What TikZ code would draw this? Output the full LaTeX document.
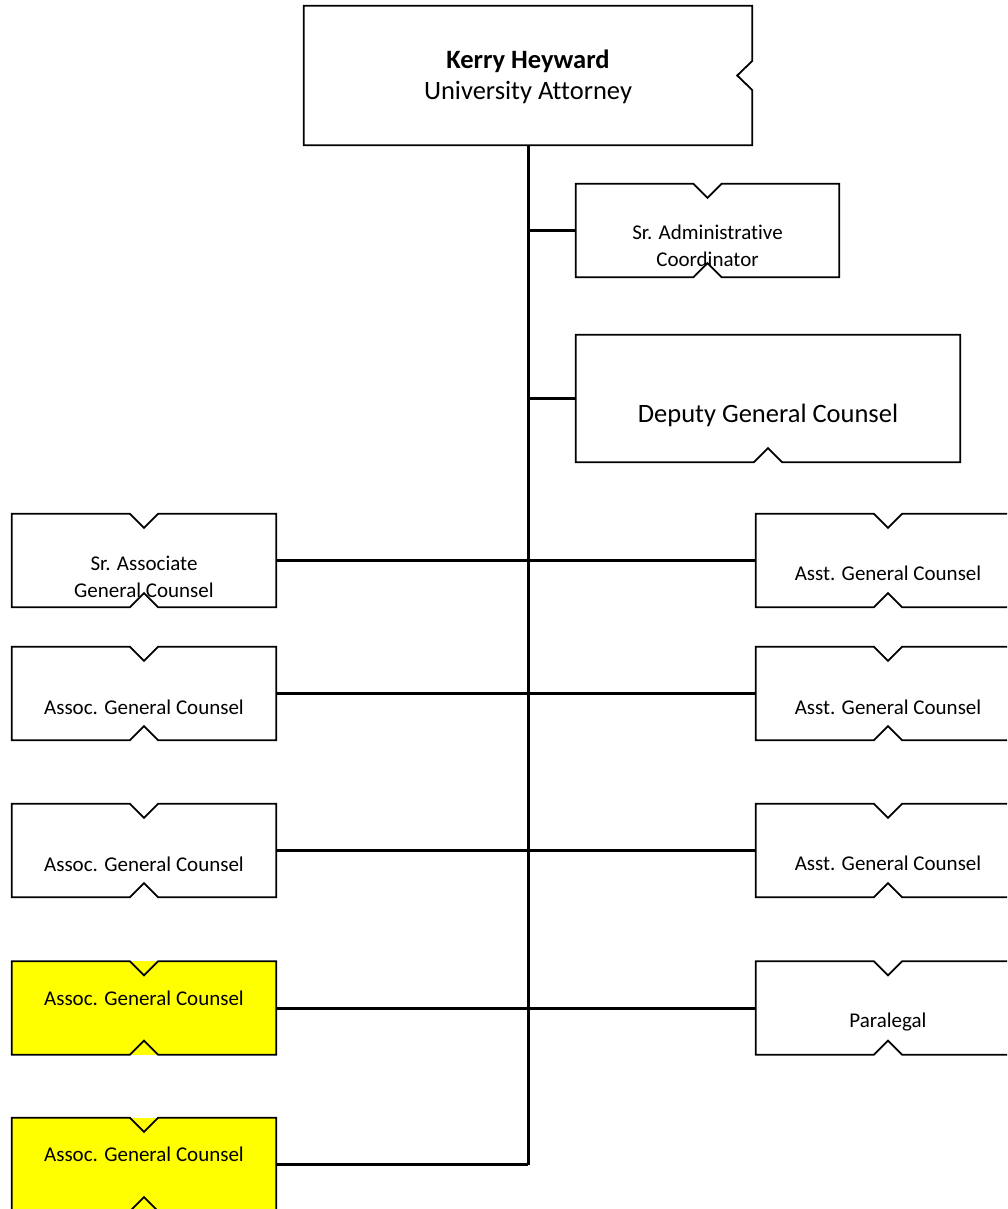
\documentclass[tikz,border=0pt]{standalone}
\usepackage{fontspec}
\setmainfont{Carlito}[Ligatures=NoCommon]
\definecolor{hiyel}{RGB}{255,255,0}
\begin{document}
\begin{tikzpicture}[x=1pt,y=-1pt,
  box/.style={rectangle,draw=none,inner sep=0pt,minimum width=264pt,minimum height=93pt},
  outl/.style={draw=black,line width=1.8pt,line join=miter},
  conn/.style={draw=black,line width=3pt},
  lab/.style={align=center,inner sep=0pt,font=\fontsize{21}{27}\selectfont},
  biglab/.style={align=center,inner sep=0pt,font=\fontsize{26.5}{31}\selectfont}]
\useasboundingbox (0,0) rectangle (1007,1209);
\clip (0,0) rectangle (1007,1209);
\def\nd{14pt}
\newcommand\tbnotch[2][white]{%
  \fill[#1] (#2.north west) rectangle (#2.south east);
  \draw[outl] (#2.north west) -- ([xshift=-\nd]#2.north) -- ([yshift=-\nd]#2.north) -- ([xshift=\nd]#2.north) -- (#2.north east) -- (#2.south east) -- ([xshift=\nd]#2.south) -- ([yshift=\nd]#2.south) -- ([xshift=-\nd]#2.south) -- (#2.south west) -- cycle;}
% top box
\node (top) [box,minimum width=448pt,minimum height=139pt] at (528,75.5) {};
\draw[outl] (top.north west) -- (top.north east) -- ([yshift=14.5pt]top.east) -- ([xshift=-15pt]top.east) -- ([yshift=-14.5pt]top.east) -- (top.south east) -- (top.south west) -- cycle;
\node[biglab] at (528,77) {\textbf{Kerry Heyward}\\University Attorney};
% sr admin coordinator
\node (sac) [box,minimum width=263pt] at (707.5,230.5) {};
\tbnotch{sac}
\node[lab] at ([yshift=-15pt]sac.center) {Sr. Administrative\\Coordinator};
% deputy
\node (dep) [box,minimum width=384pt,minimum height=127pt] at (768,398.5) {};
\draw[outl] (dep.north west) -- (dep.north east) -- (dep.south east) -- ([xshift=\nd]dep.south) -- ([yshift=\nd]dep.south) -- ([xshift=-\nd]dep.south) -- (dep.south west) -- cycle;
\node[biglab] at ([yshift=-17pt]dep.center) {Deputy General Counsel};
% left column
\node (l1) [box] at (144,560.5) {};
\node (l2) [box] at (144,693.5) {};
\node (l3) [box] at (144,850.5) {};
\node (l4) [box] at (144,1008) {};
\node (l5) [box] at (144,1164.5) {};
% right column
\node (r1) [box] at (888,560.5) {};
\node (r2) [box] at (888,693.5) {};
\node (r3) [box] at (888,850.5) {};
\node (r4) [box] at (888,1008) {};
\tbnotch{l1}\tbnotch{l2}\tbnotch{l3}
\tbnotch[hiyel]{l4}\tbnotch[hiyel]{l5}
\tbnotch{r1}\tbnotch{r2}\tbnotch{r3}\tbnotch{r4}
\node[lab] at ([yshift=-16pt]l1.center) {Sr. Associate\\General Counsel};
\node[lab] at ([yshift=-14pt]l2.center) {Assoc. General Counsel};
\node[lab] at ([yshift=-14pt]l3.center) {Assoc. General Counsel};
\node[lab] at ([yshift=10pt]l4.center) {Assoc. General Counsel};
\node[lab] at ([yshift=10pt]l5.center) {Assoc. General Counsel};
\node[lab] at ([yshift=-13pt]r1.center) {Asst. General Counsel};
\node[lab] at ([yshift=-14pt]r2.center) {Asst. General Counsel};
\node[lab] at ([yshift=-13pt]r3.center) {Asst. General Counsel};
\node[lab] at ([yshift=-14pt]r4.center) {Paralegal};
% connectors
\draw[conn] (top.south) -- (top.south |- l5.east);
\draw[conn] (l5.east) -- (l5.east -| top.south);
\draw[conn] (sac.west) -- (sac.west -| top.south);
\draw[conn] (dep.west) -- (dep.west -| top.south);
\draw[conn] (l1.east) -- (r1.west);
\draw[conn] (l2.east) -- (r2.west);
\draw[conn] (l3.east) -- (r3.west);
\draw[conn] (l4.east) -- (r4.west);
\end{tikzpicture}
\end{document}
